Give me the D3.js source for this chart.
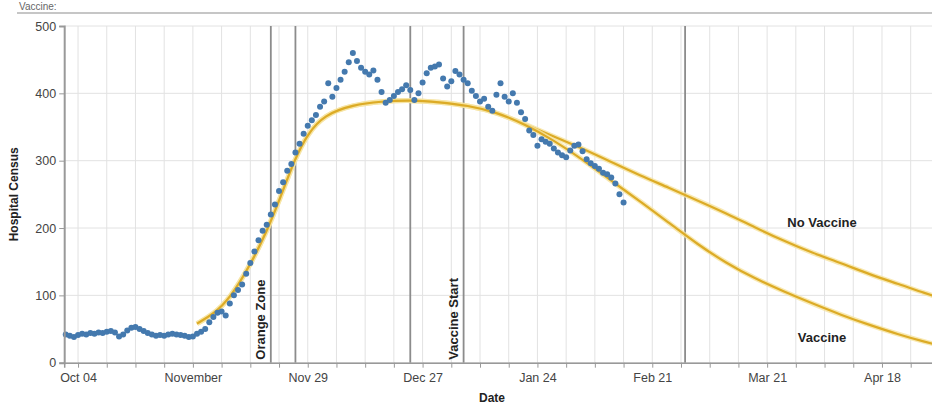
<!DOCTYPE html>
<html>
<head>
<meta charset="utf-8">
<script src="https://cdn.jsdelivr.net/npm/d3@7"></script>
<style>
  body { margin: 0; background: #fff; }
  svg { display: block; }
</style>
</head>
<body>
<div id="chart"></div>
<script>
// observed hospital census, one value per day starting Oct 1 2020
const censusStart = "2020-10-01";
const hospitalCensus = [
  42, 40, 38, 41, 43, 42, 44, 43, 45, 44,
  46, 47, 45, 39, 42, 48, 52, 53, 50, 47,
  44, 42, 40, 41, 40, 42, 43, 42, 41, 40,
  38, 39, 43, 46, 50, 60, 68, 74, 76, 70,
  88, 100, 108, 116, 132, 148, 165, 182, 196, 205,
  220, 235, 255, 268, 285, 295, 312, 325, 340, 352,
  360, 368, 380, 388, 415, 395, 408, 420, 432, 446,
  460, 448, 438, 432, 428, 434, 420, 402, 386, 390,
  396, 402, 406, 412, 405, 390, 400, 416, 430, 438,
  440, 443, 422, 410, 418, 433, 428, 420, 415, 404,
  396, 388, 392, 380, 374, 398, 415, 395, 388, 400,
  386, 372, 362, 345, 338, 322, 332, 328, 325, 318,
  312, 308, 305, 315, 322, 324, 314, 302, 296, 292,
  288, 282, 280, 275, 266, 250, 238
];

// model projections
const modelDates = [
  "2020-11-02", "2020-11-06", "2020-11-10", "2020-11-15", "2020-11-19", "2020-11-22",
  "2020-11-26", "2020-11-29", "2020-12-03", "2020-12-10", "2020-12-17", "2020-12-24",
  "2020-12-31", "2021-01-07", "2021-01-14", "2021-01-21", "2021-01-28", "2021-02-04",
  "2021-02-11", "2021-02-18", "2021-02-25", "2021-03-04", "2021-03-11", "2021-03-18",
  "2021-03-25", "2021-04-01", "2021-04-08", "2021-04-15", "2021-04-22", "2021-04-29",
  "2021-05-02"
];
const noVaccine = [
  58, 72, 95, 145, 195, 240, 305, 340, 368, 383, 388, 390, 387, 382, 372, 354,
  336, 318, 298, 278, 260, 241, 222, 201, 181, 163, 148, 131, 117, 102, 97
];
const vaccine = [
  58, 72, 95, 145, 195, 240, 305, 340, 368, 383, 388, 390, 387, 382, 372, 354,
  330, 302, 270, 240, 208, 176, 148, 125, 106, 88, 71, 56, 42, 30, 26
];

const eventDates = ["2020-11-20", "2020-11-26", "2020-12-24", "2021-01-06", "2021-03-01"];
const eventLabels = ["Orange Zone", "", "", "Vaccine Start", ""];

const xTickDates = ["2020-10-04", "2020-11-01", "2020-11-29", "2020-12-27", "2021-01-24", "2021-02-21", "2021-03-21", "2021-04-18"];
const xTickLabels = ["Oct 04", "November", "Nov 29", "Dec 27", "Jan 24", "Feb 21", "Mar 21", "Apr 18"];
const yTicks = [0, 100, 200, 300, 400, 500];

const width = 932, height = 406;
const parse = d3.timeParse("%Y-%m-%d");

const svg = d3.select("#chart").append("svg")
  .attr("width", width)
  .attr("height", height)
  .style("font-family", "'Liberation Sans', Arial, sans-serif");

const x = d3.scaleTime()
  .domain([new Date(2020, 8, 30, 15), new Date(2021, 4, 2)])
  .range([64.2, 939.4]);
const y = d3.scaleLinear().domain([0, 500]).range([362.7, 26]);

// title remnant + rule at the very top
svg.append("text")
  .attr("x", 19).attr("y", 10)
  .attr("font-size", 10).attr("fill", "#666")
  .text("Vaccine:");
svg.append("line")
  .attr("x1", 17).attr("x2", width).attr("y1", 13).attr("y2", 13)
  .attr("stroke", "#c6c6c6").attr("stroke-width", 2);

const plot = svg.append("g");

// grid
const weeks = d3.timeSunday.range(x.domain()[0], x.domain()[1]);
plot.append("g").selectAll("line").data(weeks).join("line")
  .attr("x1", d => x(d)).attr("x2", d => x(d))
  .attr("y1", y(500)).attr("y2", y(0))
  .attr("stroke", "#e2e2e2").attr("stroke-width", 1);
plot.append("g").selectAll("line").data(yTicks).join("line")
  .attr("x1", x.range()[0]).attr("x2", width)
  .attr("y1", d => y(d)).attr("y2", d => y(d))
  .attr("stroke", "#e2e2e2").attr("stroke-width", 1);

// event rules
plot.append("g").selectAll("line").data(eventDates).join("line")
  .attr("x1", d => x(parse(d))).attr("x2", d => x(parse(d)))
  .attr("y1", y(500)).attr("y2", y(0))
  .attr("stroke", "#8c8c8c").attr("stroke-width", 1.8);

// axes
const xAxis = d3.axisBottom(x)
  .tickValues(weeks)
  .tickSize(5)
  .tickFormat(d => {
    const i = xTickDates.indexOf(d3.timeFormat("%Y-%m-%d")(d));
    return i >= 0 ? xTickLabels[i] : "";
  });
const gx = svg.append("g").attr("transform", `translate(0,${y(0)})`).call(xAxis);
gx.select(".domain").attr("stroke", "#999").attr("stroke-width", 1.5);
gx.selectAll(".tick line").attr("stroke", "#999");
gx.selectAll(".tick text").attr("font-size", 12.5).attr("fill", "#444")
  .attr("font-family", "'Liberation Sans', Arial, sans-serif").attr("dy", "0.9em");

const yAxis = d3.axisLeft(y).tickValues(yTicks).tickSize(5);
const gy = svg.append("g").attr("transform", `translate(${x.range()[0]},0)`).call(yAxis);
gy.select(".domain").attr("stroke", "#999").attr("stroke-width", 2);
gy.selectAll(".tick line").attr("stroke", "#999");
gy.selectAll(".tick text").attr("font-size", 12.5).attr("fill", "#444")
  .attr("font-family", "'Liberation Sans', Arial, sans-serif");

// model curves
const line = d3.line()
  .x((d, i) => x(parse(modelDates[i])))
  .y(d => y(d))
  .curve(d3.curveBasis);
[noVaccine, vaccine].forEach(series => {
  plot.append("path").attr("d", line(series))
    .attr("fill", "none").attr("stroke", "#f6e3a0").attr("stroke-width", 5).attr("opacity", 0.8);
  plot.append("path").attr("d", line(series))
    .attr("fill", "none").attr("stroke", "#dcab26").attr("stroke-width", 2.2);
});

// observed dots
const start = parse(censusStart);
plot.append("g").selectAll("circle").data(hospitalCensus).join("circle")
  .attr("cx", (d, i) => x(d3.timeDay.offset(start, i)))
  .attr("cy", d => y(d))
  .attr("r", 3)
  .attr("fill", "#4479ae");

// annotations
eventDates.forEach((d, i) => {
  if (!eventLabels[i]) return;
  const xe = x(parse(d)) - 6;
  svg.append("text")
    .attr("transform", `translate(${xe},${y(0) - 3}) rotate(-90)`)
    .attr("font-size", 13).attr("font-weight", "bold").attr("fill", "#222")
    .attr("text-anchor", "start")
    .text(eventLabels[i]);
});

svg.append("text")
  .attr("x", 822).attr("y", y(200) - 1)
  .attr("text-anchor", "middle").attr("font-size", 13).attr("font-weight", "bold").attr("fill", "#222")
  .text("No Vaccine");
svg.append("text")
  .attr("x", 822).attr("y", y(35) + 3)
  .attr("text-anchor", "middle").attr("font-size", 13).attr("font-weight", "bold").attr("fill", "#222")
  .text("Vaccine");

// axis titles
svg.append("text")
  .attr("x", 492).attr("y", 402)
  .attr("text-anchor", "middle").attr("font-size", 12).attr("font-weight", "bold").attr("fill", "#222")
  .text("Date");
svg.append("text")
  .attr("transform", `translate(18,${(y(0) + y(500)) / 2}) rotate(-90)`)
  .attr("text-anchor", "middle").attr("font-size", 12).attr("font-weight", "bold").attr("fill", "#222")
  .text("Hospital Census");
</script>
</body>
</html>
